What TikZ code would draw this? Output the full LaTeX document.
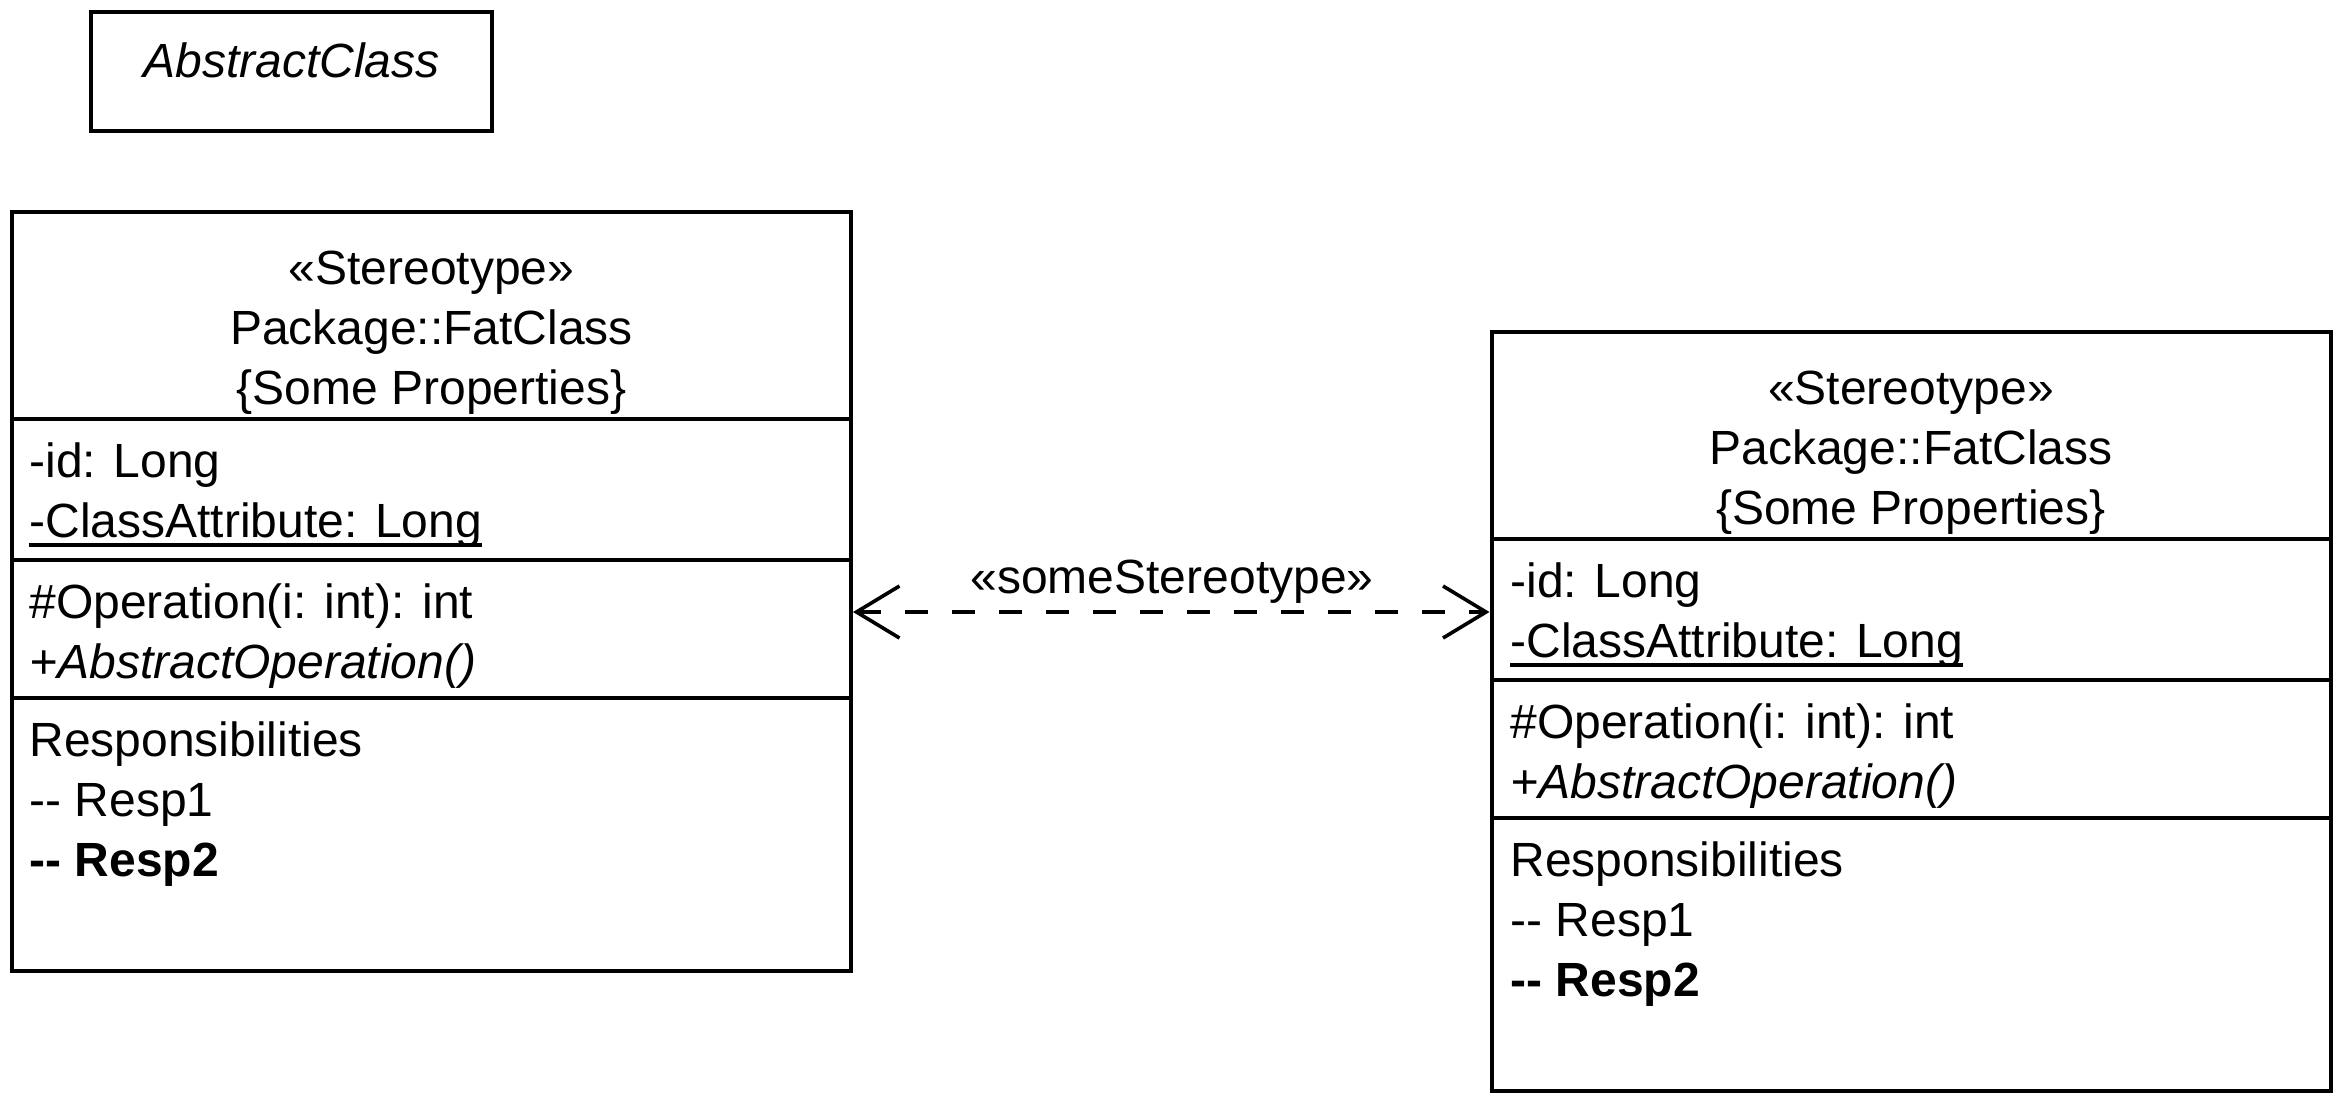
\documentclass[tikz,border=0pt]{standalone}
\usepackage{fontspec}
\setmainfont{Liberation Sans}
\usetikzlibrary{arrows.meta}
\newcommand{\myul}[1]{\setbox0\hbox{#1}\rlap{\rule[-4.9pt]{\wd0}{1.8pt}}\box0}
\begin{document}
\begin{tikzpicture}[x=0.5pt,y=-0.5pt,
  umlbox/.style={draw, rectangle, inner sep=0pt, line width=2pt},
  txt/.style={anchor=base west, inner sep=0pt, font=\fontsize{24}{29}\selectfont},
  ctxt/.style={anchor=base, inner sep=0pt, font=\fontsize{24}{29}\selectfont},
  sepline/.style={line width=2pt},
  tipb/.tip={Straight Barb[length=21.5pt,width=26pt]},
  dep/.style={line width=1.8pt, dash pattern=on 11.5pt off 12pt, tipb-tipb}]
\useasboundingbox (0,0) rectangle (2340,1100);

% Abstract class
\node[umlbox, minimum width=200.5pt, minimum height=59.5pt] (abs) at (291.5,71.5) {};
\node[ctxt] (absname) at (291.5,77) {\itshape AbstractClass};

% Left class
\node[umlbox, minimum width=419.5pt, minimum height=379.5pt] (L) at (431.5,591.5) {};
\node[ctxt] (Ls) at (431.5,284) {«Stereotype»};
\node[ctxt] (Ln) at (431.5,344) {Package::FatClass};
\node[ctxt] (Lp) at (431.5,404) {\{Some Properties\}};
\draw[sepline] (L.west |- 0,419) -- (L.east |- 0,419);
\node[txt] (La1) at (29,477) {-id: Long};
\node[txt] (La2) at (29,537) {\myul{-ClassAttribute: Long}};
\draw[sepline] (L.west |- 0,560) -- (L.east |- 0,560);
\node[txt] (Lo1) at (29,618) {\#Operation(i: int): int};
\node[txt] (Lo2) at (29,678) {\itshape +AbstractOperation()};
\draw[sepline] (L.west |- 0,698) -- (L.east |- 0,698);
\node[txt] (Lr0) at (29,756) {Responsibilities};
\node[txt] (Lr1) at (29,816) {-{}- Resp1};
\node[txt] (Lr2) at (29,876) {\bfseries -{}- Resp2};

% Right class
\node[umlbox, minimum width=419.5pt, minimum height=379.5pt] (R) at (1911,711.5) {};
\node[ctxt] (Rs) at (1911,404) {«Stereotype»};
\node[ctxt] (Rn) at (1911,464) {Package::FatClass};
\node[ctxt] (Rp) at (1911,524) {\{Some Properties\}};
\draw[sepline] (R.west |- 0,539) -- (R.east |- 0,539);
\node[txt] (Ra1) at (1510,597) {-id: Long};
\node[txt] (Ra2) at (1510,657) {\myul{-ClassAttribute: Long}};
\draw[sepline] (R.west |- 0,680) -- (R.east |- 0,680);
\node[txt] (Ro1) at (1510,738) {\#Operation(i: int): int};
\node[txt] (Ro2) at (1510,798) {\itshape +AbstractOperation()};
\draw[sepline] (R.west |- 0,818) -- (R.east |- 0,818);
\node[txt] (Rr0) at (1510,876) {Responsibilities};
\node[txt] (Rr1) at (1510,936) {-{}- Resp1};
\node[txt] (Rr2) at (1510,996) {\bfseries -{}- Resp2};

% Dependency
\draw[dep] (L.east |- 0,612) -- (R.west |- 0,612);
\node[ctxt] (deplbl) at (1172,593) {«someStereotype»};
\end{tikzpicture}
\end{document}
